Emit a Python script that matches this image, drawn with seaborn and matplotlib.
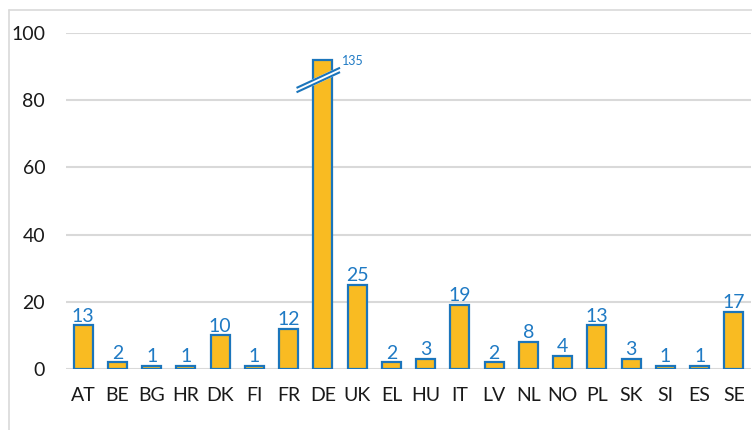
import matplotlib
matplotlib.use("Agg")
import matplotlib.pyplot as plt
import seaborn as sns
import pandas as pd
import numpy as np
from matplotlib.lines import Line2D

# dati
countries = ["AT", "BE", "BG", "HR", "DK", "FI", "FR", "DE", "UK", "EL",
             "HU", "IT", "LV", "NL", "NO", "PL", "SK", "SI", "ES", "SE"]
values = [13, 2, 1, 1, 10, 1, 12, 135, 25, 2, 3, 19, 2, 8, 4, 13, 3, 1, 1, 17]
y_ticks = [0, 20, 40, 60, 80, 100]
cap = 92  # barra DE troncata

bar_color = "#F9BB22"
edge_color = "#1B75BB"
label_color = "#1F7AC4"

df = pd.DataFrame({"country": countries, "value": values})
df["shown"] = df["value"].clip(upper=cap)

sns.set_theme(style="white")
plt.rcParams["font.family"] = ["Lato", "DejaVu Sans"]

fig = plt.figure(figsize=(7.52, 4.30), dpi=100)
ax = fig.add_axes([0.0878, 0.1419, 0.9109, 0.7814])

sns.barplot(data=df, x="country", y="shown", color=bar_color, width=0.55,
            edgecolor=edge_color, linewidth=1.6, saturation=1, ax=ax, zorder=3)

ax.set_ylim(0, 100)
ax.set_xlim(-0.5, len(countries) - 0.5)
ax.set_yticks(y_ticks)
ax.yaxis.grid(True, color="#D9D9D9", linewidth=1.5, zorder=0)
ax.set_axisbelow(True)
for s in ax.spines.values():
    s.set_visible(False)
ax.set_xlabel("")
ax.set_ylabel("")
ax.tick_params(axis="y", labelsize=14, pad=15, length=0, colors="#1a1a1a")
ax.tick_params(axis="x", labelsize=14, pad=13, length=0, colors="#1a1a1a")

# etichette dei valori
for i, (v, s) in enumerate(zip(df["value"], df["shown"])):
    if v > cap:
        ax.annotate(str(v), (i + 0.57, s - 2), xytext=(0, 0), textcoords="offset points",
                    ha="left", va="bottom", fontsize=9, color=label_color)
        # segno di interruzione
        xs = np.array([i - 0.77, i + 0.5])
        ys = np.array([s - 9, s - 3])
        ax.plot(xs, ys, color="white", linewidth=4.5, zorder=4, solid_capstyle="butt")
        ax.plot(xs, ys + 0.65, color=edge_color, linewidth=1.5, zorder=5, solid_capstyle="butt")
        ax.plot(xs, ys - 0.65, color=edge_color, linewidth=1.5, zorder=5, solid_capstyle="butt")
    else:
        ax.annotate(str(v), (i, s), xytext=(0, 0.5), textcoords="offset points",
                    ha="center", va="bottom", fontsize=14, color=label_color, zorder=6)

# cornice del grafico
fig.add_artist(Line2D([9 / 752, 9 / 752], [0, 1 - 10 / 430], color="#D9D9D9", linewidth=1.2))
fig.add_artist(Line2D([9 / 752, 1], [1 - 10 / 430, 1 - 10 / 430], color="#D9D9D9", linewidth=1.2))

fig.savefig("out.png", dpi=100)
